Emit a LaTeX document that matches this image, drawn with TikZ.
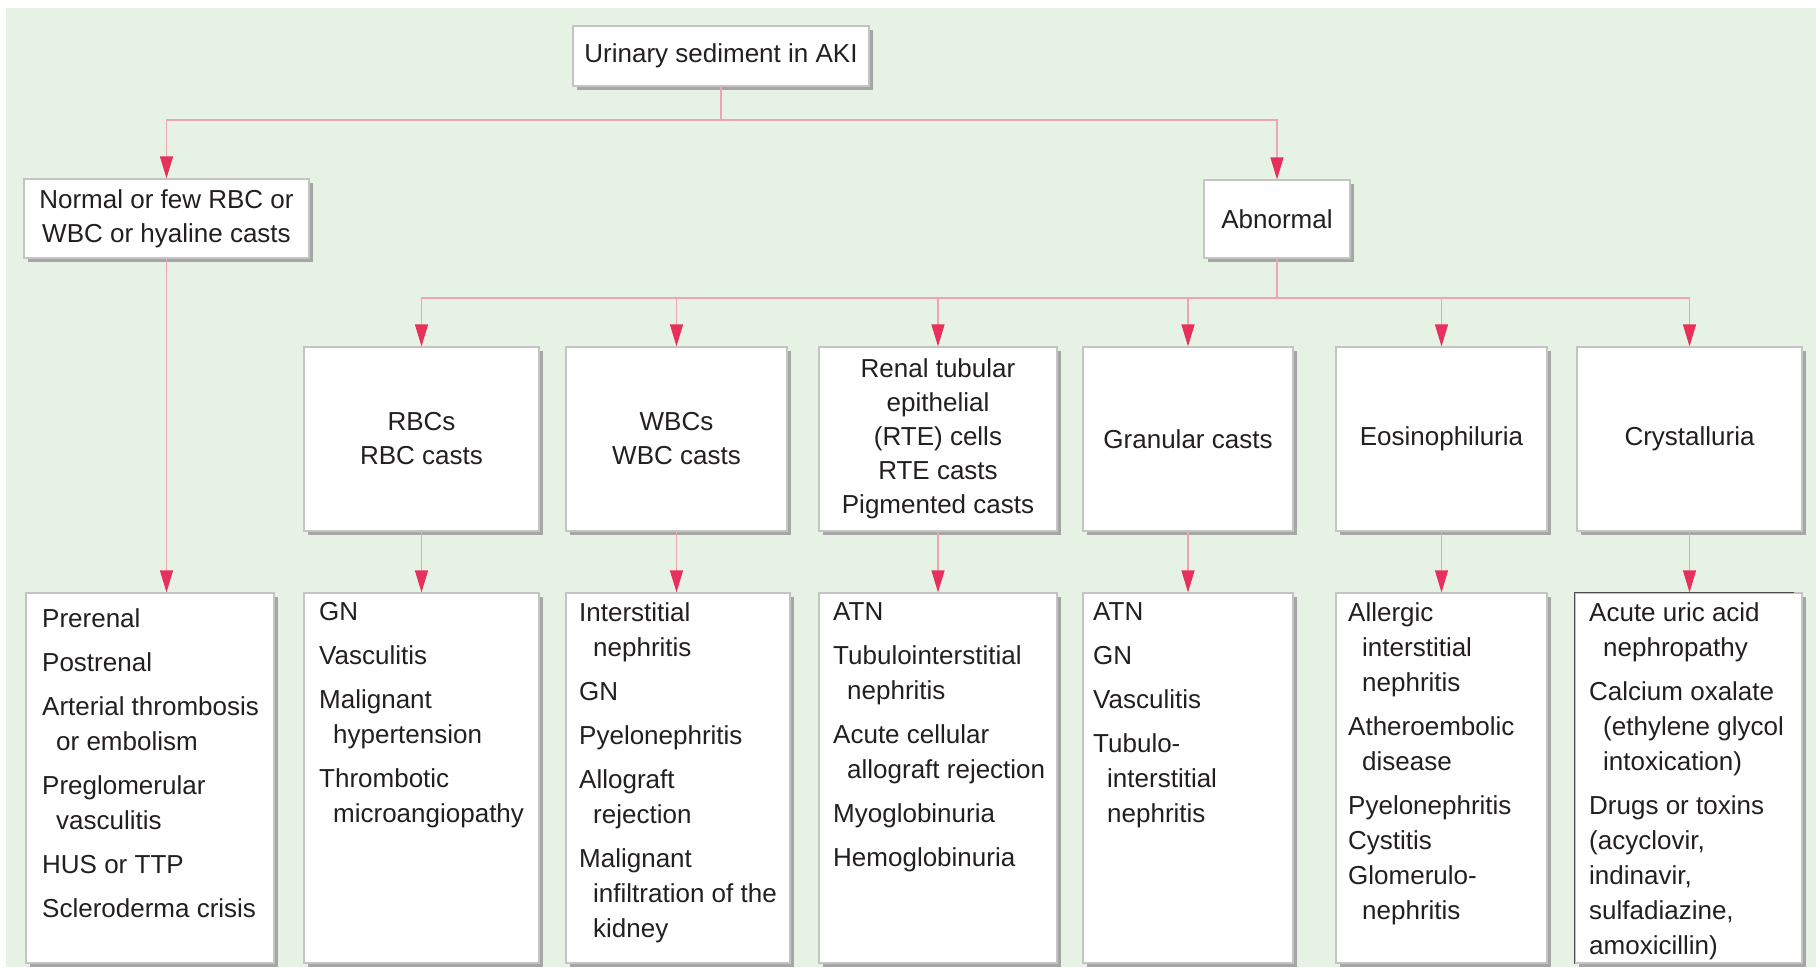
\documentclass[tikz,border=0pt]{standalone}
\usepackage{fontspec}
\setmainfont{Liberation Sans}
\usetikzlibrary{arrows.meta,shadows}
\definecolor{bg}{HTML}{E6F2E4}
\definecolor{lnk}{HTML}{F0A3B3}
\definecolor{tipc}{HTML}{E8305C}
\definecolor{bord}{HTML}{C4C4C4}
\definecolor{shad}{HTML}{A6A6A6}
\definecolor{txt}{HTML}{231F20}
\begin{document}
\begin{tikzpicture}[x=1pt,y=-1pt,
 box/.style={draw=bord, fill=white, line width=1.2pt, inner sep=0pt, align=center, text=txt,
   font=\fontsize{26}{34}\selectfont,
   general shadow={fill=shad, shadow xshift=4pt, shadow yshift=-4pt}},
 listtext/.style={anchor=north west, align=left, inner sep=0pt, text=txt, font=\fontsize{26}{35}\selectfont},
 link/.style={draw=lnk, line width=1.2pt},
 arr/.style={link, -{Triangle[length=22pt,width=13pt,color=tipc]}}
]
\useasboundingbox (0,0) rectangle (1816,967);
\fill[bg] (6,8) rectangle (1816,967);

% top levels
\node[box, minimum width=296pt, minimum height=60pt] (root) at (721,56) {Urinary sediment in AKI};
\node[box, minimum width=285pt, minimum height=79pt] (normal) at (166.5,218.5) {Normal or few RBC or\\WBC or hyaline casts};
\node[box, minimum width=146pt, minimum height=78pt] (abn) at (1277,219) {Abnormal};

% second level
\node[box, minimum width=235pt, minimum height=184pt] (rbc) at (421.5,439) {RBCs\\RBC casts};
\node[box, minimum width=221pt, minimum height=184pt] (wbc) at (676.5,439) {WBCs\\WBC casts};
\node[box, minimum width=238pt, minimum height=184pt] (rte) at (938,439) {Renal tubular\\epithelial\\(RTE) cells\\RTE casts\\Pigmented casts};
\node[box, minimum width=210pt, minimum height=184pt] (gran) at (1188,439) {Granular casts};
\node[box, minimum width=211pt, minimum height=184pt] (eos) at (1441.5,439) {Eosinophiluria};
\node[box, minimum width=225pt, minimum height=184pt] (crys) at (1689.5,439) {Crystalluria};

% third level boxes
\node[box, minimum width=248pt, minimum height=370pt] (pre) at (150,778) {};
\node[box, minimum width=235pt, minimum height=370pt] (rbcl) at (421.5,778) {};
\node[box, minimum width=224pt, minimum height=370pt] (wbcl) at (678,778) {};
\node[box, minimum width=238pt, minimum height=370pt] (rtel) at (938,778) {};
\node[box, minimum width=210pt, minimum height=370pt] (granl) at (1188,778) {};
\node[box, minimum width=211pt, minimum height=370pt] (eosl) at (1441.5,778) {};
\node[box, minimum width=227pt, minimum height=370pt] (crysl) at (1688.5,778) {};
\draw[black!70, line width=1.2pt] (crysl.south west) -- (crysl.north west) -- ([xshift=-9pt]crysl.north east);

% third level texts
\node[listtext] (pret) at (42,608) {Prerenal\\[9pt]Postrenal\\[9pt]Arterial thrombosis\\\hspace*{14pt}or embolism\\[9pt]Preglomerular\\\hspace*{14pt}vasculitis\\[9pt]HUS or TTP\\[9pt]Scleroderma crisis};
\node[listtext] (rbct) at (319,602) {GN\\[9pt]Vasculitis\\[9pt]Malignant\\\hspace*{14pt}hypertension\\[9pt]Thrombotic\\\hspace*{14pt}microangiopathy};
\node[listtext] (wbct) at (579,602) {Interstitial\\\hspace*{14pt}nephritis\\[9pt]GN\\[9pt]Pyelonephritis\\[9pt]Allograft\\\hspace*{14pt}rejection\\[9pt]Malignant\\\hspace*{14pt}infiltration of the\\\hspace*{14pt}kidney};
\node[listtext] (rtet) at (833,602) {ATN\\[9pt]Tubulointerstitial\\\hspace*{14pt}nephritis\\[9pt]Acute cellular\\\hspace*{14pt}allograft rejection\\[9pt]Myoglobinuria\\[9pt]Hemoglobinuria};
\node[listtext] (grant) at (1093,602) {ATN\\[9pt]GN\\[9pt]Vasculitis\\[9pt]Tubulo-\\\hspace*{14pt}interstitial\\\hspace*{14pt}nephritis};
\node[listtext] (eost) at (1348,602) {Allergic\\\hspace*{14pt}interstitial\\\hspace*{14pt}nephritis\\[9pt]Atheroembolic\\\hspace*{14pt}disease\\[9pt]Pyelonephritis\\Cystitis\\Glomerulo-\\\hspace*{14pt}nephritis};
\node[listtext] (cryst) at (1589,602) {Acute uric acid\\\hspace*{14pt}nephropathy\\[9pt]Calcium oxalate\\\hspace*{14pt}(ethylene glycol\\\hspace*{14pt}intoxication)\\[9pt]Drugs or toxins\\(acyclovir,\\indinavir,\\sulfadiazine,\\amoxicillin)};

% connectors
\coordinate (j1) at (721,120);
\coordinate (j2) at (1277,298);
\draw[link] (root.south) -- (j1);
\draw[arr] (j1) -| (normal.north);
\draw[arr] (j1) -| (abn.north);
\draw[link] (abn.south) -- (j2);
\foreach \n in {rbc,wbc,rte,gran,eos,crys}{
  \draw[arr] (j2) -| (\n.north);
}
\draw[arr] (normal.south) -- (normal.south |- pre.north);
\draw[arr] (rbc.south) -- (rbc.south |- rbcl.north);
\draw[arr] (wbc.south) -- (wbc.south |- wbcl.north);
\draw[arr] (rte.south) -- (rte.south |- rtel.north);
\draw[arr] (gran.south) -- (gran.south |- granl.north);
\draw[arr] (eos.south) -- (eos.south |- eosl.north);
\draw[arr] (crys.south) -- (crys.south |- crysl.north);
\end{tikzpicture}
\end{document}
